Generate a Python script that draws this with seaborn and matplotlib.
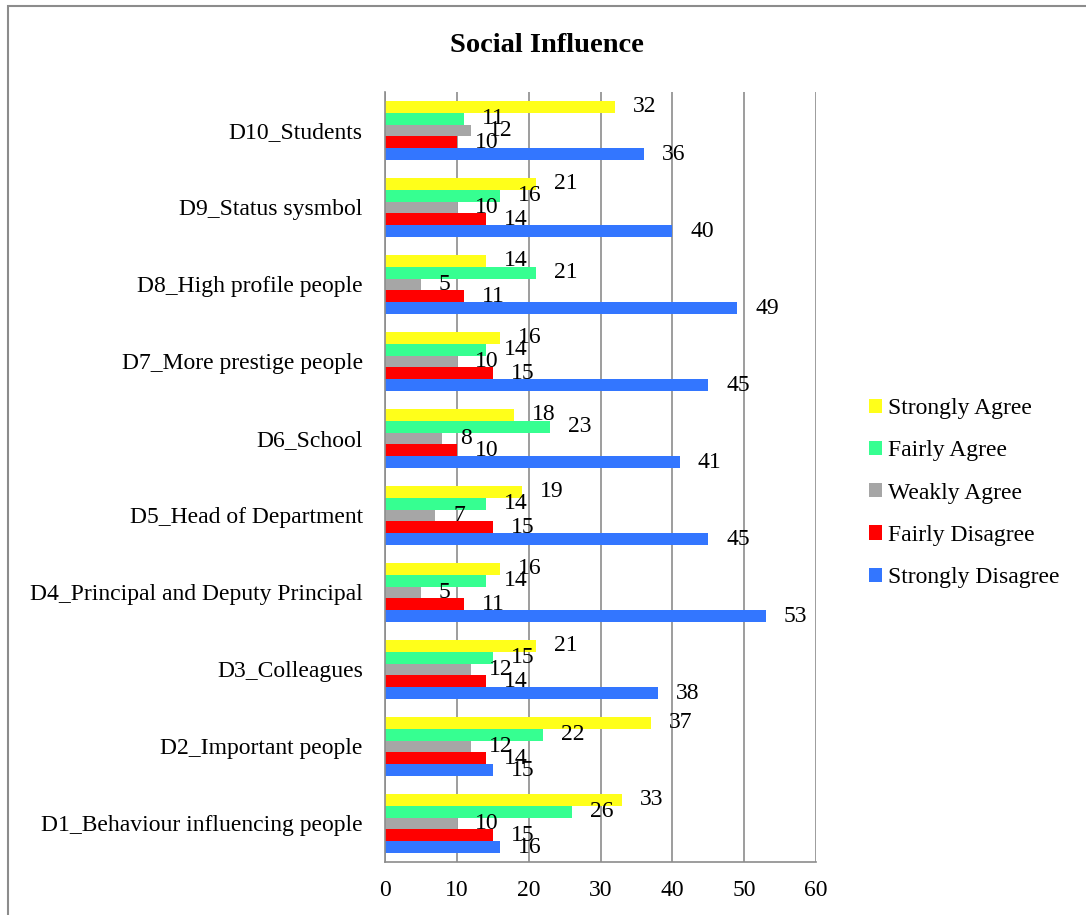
import matplotlib
matplotlib.use("Agg")
import matplotlib.pyplot as plt
import seaborn as sns
import pandas as pd
from matplotlib.patches import Rectangle

# Survey items, listed top to bottom
items = [
    "D10_Students",
    "D9_Status sysmbol",
    "D8_High profile people",
    "D7_More prestige people",
    "D6_School",
    "D5_Head of Department",
    "D4_Principal and Deputy Principal",
    "D3_Colleagues",
    "D2_Important people",
    "D1_Behaviour influencing people",
]

responses = ["Strongly Agree", "Fairly Agree", "Weakly Agree",
             "Fairly Disagree", "Strongly Disagree"]

strongly_agree = [32, 21, 14, 16, 18, 19, 16, 21, 37, 33]
fairly_agree = [11, 16, 21, 14, 23, 14, 14, 15, 22, 26]
weakly_agree = [12, 10, 5, 10, 8, 7, 5, 12, 12, 10]
fairly_disagree = [10, 14, 11, 15, 10, 15, 11, 14, 14, 15]
strongly_disagree = [36, 40, 49, 45, 41, 45, 53, 38, 15, 16]

colors = ["#FFFF1A", "#36FF91", "#A6A6A6", "#FF0000", "#3376FF"]

series = [strongly_agree, fairly_agree, weakly_agree,
          fairly_disagree, strongly_disagree]
rows = []
for resp, vals in zip(responses, series):
    for item, v in zip(items, vals):
        rows.append({"Item": item, "Response": resp, "Count": v})
df = pd.DataFrame(rows)

sns.set_theme(style="white")
plt.rcParams["font.family"] = ["Liberation Serif", "DejaVu Serif"]
plt.rcParams["text.color"] = "black"

FS = 17

fig = plt.figure(figsize=(10.86, 9.15), dpi=100)
ax = fig.add_axes([0.3545, 0.058, 0.397, 0.8415])

sns.barplot(data=df, y="Item", x="Count", hue="Response",
            order=items, hue_order=responses, palette=colors,
            orient="h", width=0.77, saturation=1, errorbar=None,
            edgecolor="none", linewidth=0, ax=ax)

ax.set_xlim(0, 60)
ax.set_xticks(range(0, 61, 10))
ax.set_ylim(len(items) - 0.5, -0.5)
ax.set_xlabel("")
ax.set_ylabel("")
ax.xaxis.grid(True, color="#8C8C8C", linewidth=1.2)
ax.set_axisbelow(True)

for side in ["top", "right"]:
    ax.spines[side].set_visible(False)
for side in ["left", "bottom"]:
    ax.spines[side].set_visible(True)
    ax.spines[side].set_color("#8C8C8C")
    ax.spines[side].set_linewidth(1.2)

# Category ticks sit on group boundaries
ax.set_yticks([i for i in range(len(items))])
ax.set_yticklabels(items, fontsize=FS, color="black")
ax.tick_params(axis="y", length=0, pad=16)
ax.set_yticks([i - 0.5 for i in range(len(items) + 1)], minor=True)
ax.tick_params(axis="y", which="minor", length=5, color="#8C8C8C", width=1.2)
ax.tick_params(axis="x", length=5, color="#8C8C8C", width=1.2,
               labelsize=FS, labelcolor="black", pad=8)

for container in ax.containers:
    ax.bar_label(container, fmt="%d", padding=13, fontsize=FS,
                 color="black")

fig.text(547 / 1086, 1 - 46 / 915, "Social Influence", fontsize=20.5,
         fontweight="bold", color="black", ha="center", va="center")

handles, labels = ax.get_legend_handles_labels()
leg = ax.legend(handles, labels, loc="center left",
                bbox_to_anchor=(1.074, 0.479), frameon=False, fontsize=FS,
                handlelength=0.55, handleheight=0.55, handletextpad=0.25,
                labelspacing=0.9)
for t in leg.get_texts():
    t.set_color("black")

# Outer chart frame
fig.patches.append(Rectangle((8 / 1086, -0.05), 1.1, 1 - 6 / 915 + 0.05,
                             transform=fig.transFigure, fill=False,
                             edgecolor="#8C8C8C", linewidth=1.5))

fig.savefig("out.png", dpi=100, facecolor="white")
